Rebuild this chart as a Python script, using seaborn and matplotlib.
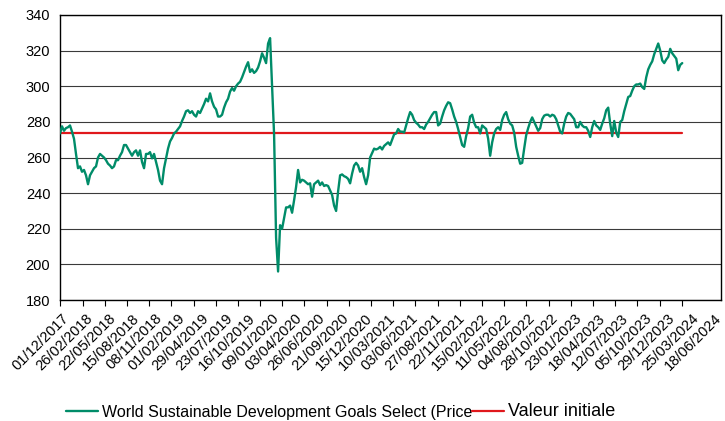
import pandas as pd
import matplotlib.pyplot as plt
import matplotlib.dates as mdates
import seaborn as sns

# index levels, one reading every ~8 days from 01/12/2017 to 19/06/2024
start_date = "2017-12-01"
end_date = "2024-06-19"
index_values = [
    273.5, 277.5, 275, 276.5, 277, 278, 274.5, 270.5, 262, 254,
    255, 252, 253, 250, 245, 250, 252, 254, 255, 260,
    262, 261, 260, 258.5, 256.5, 255.5, 254, 255, 258.5, 258.5,
    261, 263, 267, 267, 265, 263, 261, 263, 264, 261,
    264, 257.5, 254, 262, 262, 263, 259.5, 262, 257.5, 253,
    247, 245, 254, 259.5, 265, 269, 271, 273.5, 274.5, 276,
    277.5, 280.5, 283, 286, 286.5, 285, 286, 284, 283, 286,
    285, 287.5, 290, 293, 291.5, 296, 291.5, 288.5, 287, 283,
    283, 284, 288, 291, 293, 297, 299, 297.5, 300, 301.5,
    302.5, 305, 308, 311, 313.5, 308, 309.5, 307.5, 308.5, 310.5,
    314, 318.5, 316, 313, 324, 327, 300, 273, 215, 196,
    222, 220, 226, 232, 232, 233, 229, 236, 243.5, 253,
    246, 247.5, 247, 246, 245, 245.5, 238, 245, 246, 247,
    244.5, 246, 244, 244.5, 244, 241.5, 239, 233, 230, 241,
    250, 250.5, 249.5, 249, 248, 245.5, 251, 255.5, 257, 255.5,
    252, 254, 249, 245, 250, 260, 262.5, 265, 264.5, 265,
    266, 264.5, 266.5, 267.5, 268.5, 267, 270, 273, 273.5, 276,
    274.5, 274.5, 274, 278, 282, 285.5, 284, 281, 279.5, 278.5,
    277, 277, 276, 278.5, 280, 282, 284, 285.5, 285.5, 278,
    279, 283, 286.5, 289, 291, 290.5, 287, 283, 280, 276,
    271.5, 267, 266, 272, 276.5, 283, 284, 279.5, 277, 277,
    273.5, 278, 277, 276, 270.5, 261, 268.5, 273.5, 276, 277,
    275.5, 281, 284, 285.5, 281.5, 279, 278, 274, 266, 261,
    256.5, 257, 265, 272.5, 276.5, 280, 282.5, 280, 277.5, 275,
    276.5, 281.5, 283.5, 284, 284, 283, 284, 283.5, 281.5, 278,
    274.5, 273.5, 279, 283, 285, 284.5, 283, 281.5, 277, 277,
    280, 278, 277, 277, 275, 271.5, 277, 280.5, 278, 277,
    275.5, 279, 282, 286.5, 288, 279, 272, 280.5, 274, 271.5,
    280, 281, 286, 290, 294, 294.5, 297.5, 300, 301, 301,
    301.5, 299.5, 298.5, 305, 309.5, 312, 314, 318, 321, 324,
    320, 314.5, 313, 315, 316.5, 321, 318.5, 317, 315.5, 309,
    312, 313,
]

tick_labels = [
    "01/12/2017", "26/02/2018", "22/05/2018", "15/08/2018", "08/11/2018",
    "01/02/2019", "29/04/2019", "23/07/2019", "16/10/2019", "09/01/2020",
    "03/04/2020", "26/06/2020", "21/09/2020", "15/12/2020", "10/03/2021",
    "03/06/2021", "27/08/2021", "22/11/2021", "15/02/2022", "11/05/2022",
    "04/08/2022", "28/10/2022", "23/01/2023", "18/04/2023", "12/07/2023",
    "05/10/2023", "29/12/2023", "25/03/2024", "18/06/2024",
]
y_ticks = [180, 200, 220, 240, 260, 280, 300, 320, 340]

series_name = "World Sustainable Development Goals Select (Price"
init_name = "Valeur initiale"


def create_chart():
    df = pd.DataFrame({
        "date": pd.date_range(start_date, end_date, periods=len(index_values)),
        "value": index_values,
    })
    df["init"] = index_values[0]

    sns.set_theme(style="white")
    plt.rcParams["font.family"] = ["Liberation Sans", "DejaVu Sans"]

    fig = plt.figure(figsize=(7.25, 4.21), dpi=100)
    ax = fig.add_axes([60 / 725, 1 - 300 / 421, 661 / 725, 285 / 421])

    sns.lineplot(data=df, x="date", y="value", color="#008c69", lw=1.7,
                 label=series_name, ax=ax, zorder=3)
    sns.lineplot(data=df, x="date", y="init", color="#e0181c", lw=1.6,
                 label=init_name, ax=ax, zorder=2)

    ax.set_ylim(180, 340)
    ax.set_yticks(y_ticks)
    ax.set_xlim(pd.Timestamp("2017-12-01"), pd.Timestamp("2024-11-15"))
    ticks = pd.to_datetime(tick_labels, format="%d/%m/%Y")
    ax.set_xticks(ticks)
    ax.set_xticklabels([])
    # rotated date labels, drifting slightly right of their ticks like the original
    for i, (t, lab) in enumerate(zip(ticks, tick_labels)):
        ax.annotate(lab, xy=(mdates.date2num(t), 0), xycoords=ax.get_xaxis_transform(),
                    xytext=(1 + 0.8 * i, -8), textcoords="offset points",
                    rotation=45, ha="right", va="top", rotation_mode="anchor",
                    fontsize=10.5, color="black", annotation_clip=False)
    ax.set_xlabel("")
    ax.set_ylabel("")

    ax.yaxis.grid(True, color="#3a3a3a", lw=0.8)
    ax.xaxis.grid(False)
    for sp in ax.spines.values():
        sp.set_color("black")
        sp.set_linewidth(1.0)

    ax.tick_params(axis="x", length=4, width=0.8, color="black", direction="out",
                   bottom=True)
    ax.tick_params(axis="y", length=0, pad=7, labelsize=10.5, labelcolor="black")

    handles, labels = ax.get_legend_handles_labels()
    ax.get_legend().remove()
    leg = fig.legend(handles, labels, loc="center left",
                     bbox_to_anchor=(66 / 725, 1 - 412 / 421), ncol=2,
                     frameon=False, fontsize=11.5, handlelength=2.0,
                     handletextpad=0.25, columnspacing=0.0,
                     borderpad=0, borderaxespad=0)
    leg.get_texts()[1].set_fontsize(13)
    for t in leg.get_texts():
        t.set_color("black")

    fig.savefig("out.png", dpi=100)
    plt.close(fig)


if __name__ == "__main__":
    create_chart()
